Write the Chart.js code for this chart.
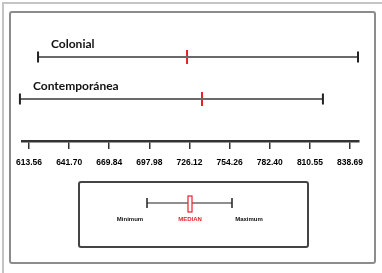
<!DOCTYPE html>
<html>
<head>
<meta charset="utf-8">
<script src="https://cdn.jsdelivr.net/npm/chart.js@4/dist/chart.umd.min.js"></script>
<style>
    html, body { margin: 0; padding: 0; background: #fff; overflow: hidden; }
    #wrap { position: relative; width: 382px; height: 273px; overflow: hidden; }
    #chart { position: absolute; left: 0; top: 0; }
    .outer { position: absolute; left: 2px; top: 2px; width: 420px; height: 320px;
             border-top: 2px solid #c4c4c4; border-left: 2px solid #c4c4c4; pointer-events: none; }
    .inner { position: absolute; left: 9px; top: 11px; width: 367px; height: 253px; box-sizing: border-box;
             border: 2px solid #8c8c8c; border-radius: 3px; pointer-events: none; }
</style>
</head>
<body>
<div id="wrap">
    <canvas id="chart" width="382" height="273"></canvas>
    <div class="outer"></div>
    <div class="inner"></div>
</div>
<script>
// groups, top to bottom
var groups = ['Colonial', 'Contemporánea'];
var minimum = [619.9, 607.2];
var median = [724.4, 734.9];
var maximum = [844.3, 819.7];
var rowY = [2, 1];

// axis ticks
var tickValues = [613.56, 641.70, 669.84, 697.98, 726.12, 754.26, 782.40, 810.55, 838.69];
var tickLabels = ['613.56', '641.70', '669.84', '697.98', '726.12', '754.26', '782.40', '810.55', '838.69'];

var datasets = [];
groups.forEach(function(g, i) {
    datasets.push({
        label: g,
        data: [{ x: minimum[i], y: rowY[i] }, { x: maximum[i], y: rowY[i] }],
        borderColor: '#6a6a6a',
        borderWidth: 2,
        pointStyle: 'line',
        rotation: 90,
        pointRadius: 5.5,
        pointBorderColor: '#222',
        pointBorderWidth: 2,
        clip: false
    });
    datasets.push({
        label: g + ' median',
        data: [{ x: median[i], y: rowY[i] }],
        showLine: false,
        pointStyle: 'line',
        rotation: 90,
        pointRadius: 7,
        pointBorderColor: '#e8202a',
        pointBorderWidth: 2,
        clip: false
    });
});

// names above each range
var rangeLabels = {
    id: 'rangeLabels',
    afterDatasetsDraw: function(chart) {
        var ctx = chart.ctx;
        var xs = chart.scales.x, ys = chart.scales.y;
        ctx.save();
        ctx.font = 'bold 12px Lato, "Open Sans", sans-serif';
        ctx.fillStyle = '#111';
        ctx.textBaseline = 'middle';
        ctx.textAlign = 'left';
        groups.forEach(function(g, i) {
            var px = xs.getPixelForValue(minimum[i]) + 13;
            var py = ys.getPixelForValue(rowY[i]) - 13;
            ctx.fillText(g, px, py);
        });
        ctx.restore();
    }
};

// key box under the axis
var keyBox = {
    id: 'keyBox',
    afterDraw: function(chart) {
        var ctx = chart.ctx;
        ctx.save();
        ctx.strokeStyle = '#444';
        ctx.lineWidth = 2;
        ctx.beginPath();
        ctx.roundRect(79, 182, 229, 65, 2);
        ctx.stroke();

        ctx.strokeStyle = '#6a6a6a';
        ctx.lineWidth = 1.5;
        ctx.beginPath();
        ctx.moveTo(147, 203);
        ctx.lineTo(232, 203);
        ctx.stroke();
        ctx.strokeStyle = '#222';
        ctx.lineWidth = 1.5;
        ctx.beginPath();
        ctx.moveTo(147, 198); ctx.lineTo(147, 208);
        ctx.moveTo(232, 198); ctx.lineTo(232, 208);
        ctx.stroke();
        ctx.fillStyle = '#fff';
        ctx.fillRect(188, 196, 4, 16);
        ctx.strokeStyle = '#e8202a';
        ctx.lineWidth = 1.2;
        ctx.strokeRect(188, 196, 4, 16);

        ctx.font = 'bold 6px "Liberation Sans", Arial, sans-serif';
        ctx.textAlign = 'center';
        ctx.textBaseline = 'middle';
        ctx.fillStyle = '#111';
        ctx.fillText('Minimum', 130, 219);
        ctx.fillText('Maximum', 249, 219);
        ctx.fillStyle = '#e8202a';
        ctx.fillText('MEDIAN', 190, 219);
        ctx.restore();
    }
};

new Chart(document.getElementById('chart'), {
    type: 'line',
    data: { datasets: datasets },
    plugins: [rangeLabels, keyBox],
    options: {
        responsive: false,
        animation: false,
        devicePixelRatio: 1,
        layout: { padding: { left: 22, right: 23, top: 15, bottom: 0 } },
        plugins: { legend: { display: false }, tooltip: { enabled: false } },
        scales: {
            x: {
                type: 'linear',
                position: 'bottom',
                min: 608.65,
                max: 845.0,
                afterBuildTicks: function(scale) {
                    scale.ticks = tickValues.map(function(v) { return { value: v }; });
                },
                afterFit: function(scale) { scale.height = 132; },
                grid: { drawOnChartArea: false, drawTicks: true, tickLength: 8, color: '#333', lineWidth: 1.5 },
                border: { display: true, color: '#333', width: 2.5 },
                ticks: {
                    autoSkip: false,
                    maxRotation: 0,
                    padding: 9,
                    color: '#000',
                    font: { family: '"Liberation Sans Narrow", "Liberation Sans", Arial', size: 8.5, weight: 'bold' },
                    callback: function(v, i) { return tickLabels[i]; }
                }
            },
            y: { type: 'linear', display: false, min: 0, max: 3 }
        }
    }
});
</script>
</body>
</html>
